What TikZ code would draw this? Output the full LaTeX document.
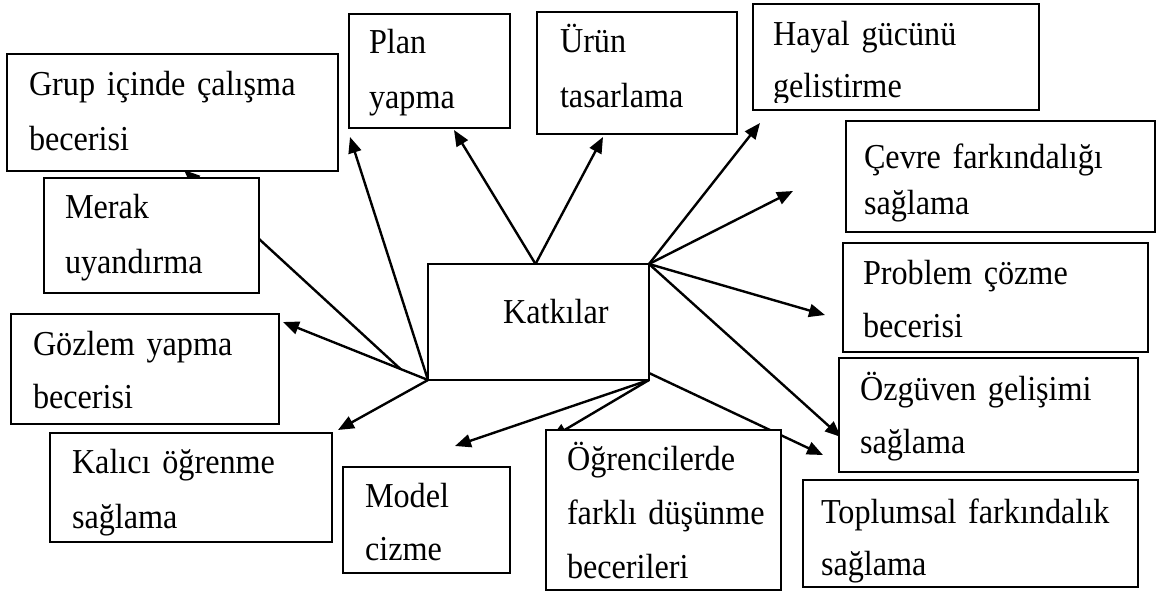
\documentclass[tikz,border=0pt]{standalone}
\usepackage{fontspec}
\setmainfont{Liberation Serif}[FakeStretch=0.92]
\usetikzlibrary{arrows.meta,calc}
\pgfdeclarelayer{links}
\pgfsetlayers{links,main}
% label font with a given line pitch and tight word spaces
\newcommand\boxfont[1]{\fontsize{35}{#1}\selectfont\spaceskip=6.5pt plus 2pt minus 1pt\relax}

\begin{document}
\begin{tikzpicture}[x=1pt,y=-1pt,
  box/.style={draw, line width=2.8pt, fill=white, inner sep=0pt, outer sep=0pt, anchor=north west},
  txt/.style={inner sep=0pt, outer sep=0pt, anchor=base west, align=left, text width=340pt,
              font=\boxfont{54}},
  link/.style={line width=2.4pt, -{Triangle[length=16pt,width=13pt]}},
]
\useasboundingbox (0,0) rectangle (1158,592);

% outer boxes
\node[box, minimum width=331pt, minimum height=117pt] (grup)    at (7,54)    {};
\node[box, minimum width=161pt, minimum height=114pt] (plan)    at (349,14)  {};
\node[box, minimum width=200pt, minimum height=122pt] (urun)    at (537,12)  {};
\node[box, minimum width=286pt, minimum height=106pt] (hayal)   at (753,4)   {};
\node[box, minimum width=309pt, minimum height=111pt] (cevre)   at (846,121) {};
\node[box, minimum width=305pt, minimum height=109pt] (problem) at (843,243) {};
\node[box, minimum width=299pt, minimum height=114pt] (ozguven) at (839,358) {};
\node[box, minimum width=335pt, minimum height=107pt] (toplum)  at (803,480) {};
\node[box, minimum width=235pt, minimum height=160pt] (ogrenci) at (546,430) {};
\node[box, minimum width=167pt, minimum height=106pt] (model)   at (343,467) {};
\node[box, minimum width=282pt, minimum height=109pt] (kalici)  at (50,433)  {};
\node[box, minimum width=268pt, minimum height=110pt] (gozlem)  at (11,314)  {};
\node[box, minimum width=215pt, minimum height=115pt] (merak)   at (44,178)  {};
% centre box
\node[box, minimum width=221pt, minimum height=116pt] (katk)    at (428,264) {};

% arrow tips
\coordinate (tipGrup)    at (184,170);
\coordinate (tipPlanA)   at (350,137);
\coordinate (tipPlanB)   at (454,130);
\coordinate (tipUrun)    at (603,137);
\coordinate (tipHayal)   at (760,123);
\coordinate (tipCevre)   at (793,191);
\coordinate (tipProblem) at (825,315);
\coordinate (tipOzguven) at (841,437);
\coordinate (tipToplum)  at (823,455);
\coordinate (tipOgrenci) at (551,438);
\coordinate (tipModel)   at (455,446);
\coordinate (tipKalici)  at (338,430);
\coordinate (tipGozlem)  at (283,322);

\begin{pgfonlayer}{links}
  % from the lower left corner
  \draw[link] (katk.south west) -- (tipPlanA);
  \draw[link] (katk.south west) -- (tipGozlem);
  \draw[link] (katk.south west) -- (tipKalici);
  \draw[link] ($(katk.south west)!0.19!(tipGozlem)$) -- (tipGrup);
  % from the top edge
  \draw[link] ($(katk.north)+(-3,0)$) -- (tipPlanB);
  \draw[link] ($(katk.north)+(-3,0)$) -- (tipUrun);
  % from the upper right corner
  \draw[link] (katk.north east) -- (tipHayal);
  \draw[link] (katk.north east) -- (tipCevre);
  \draw[link] (katk.north east) -- (tipProblem);
  \draw[link] (katk.north east) -- (tipOzguven);
  % from the lower right corner
  \draw[link] (katk.south east) -- (tipModel);
  \draw[link] (katk.south east) -- (tipOgrenci);
  \draw[link] ($(katk.south east)+(0,-7)$) -- (tipToplum);
\end{pgfonlayer}

% labels
\node[txt] (tkatk)    at (503,323) {Katkılar};
\node[txt, font=\boxfont{55}] (tgrup)  at (29,95)  {Grup içinde çalışma\\becerisi};
\node[txt, font=\boxfont{55}] (tmerak) at (65,218) {Merak\\uyandırma};
\node[txt, font=\boxfont{55}] (tplan)  at (369,53) {Plan\\yapma};
\node[txt, font=\boxfont{55}] (turun)  at (560,52) {Ürün\\tasarlama};
\begin{scope}
  \clip (hayal.north west) rectangle ($(hayal.south east)+(0,-8)$);
  \node[txt, font=\boxfont{52}] (thayal) at (773,45) {Hayal gücünü\\gelistirme};
\end{scope}
\node[txt, font=\boxfont{46}] (tcevre)   at (864,168) {Çevre farkındalığı\\sağlama};
\node[txt, font=\boxfont{53}] (tproblem) at (863,284) {Problem çözme\\becerisi};
\node[txt, font=\boxfont{53}] (tozguven) at (860,400) {Özgüven gelişimi\\sağlama};
\node[txt, font=\boxfont{52}] (ttoplum)  at (821,523) {Toplumsal farkındalık\\sağlama};
\node[txt] (togrenci) at (567,470) {Öğrencilerde\\farklı düşünme\\becerileri};
\node[txt, font=\boxfont{53}] (tmodel)   at (365,507) {Model\\cizme};
\node[txt, font=\boxfont{55}] (tkalici)  at (72,473)  {Kalıcı öğrenme\\sağlama};
\node[txt, font=\boxfont{53}] (tgozlem)  at (33,355)  {Gözlem yapma\\becerisi};
\end{tikzpicture}
\end{document}
